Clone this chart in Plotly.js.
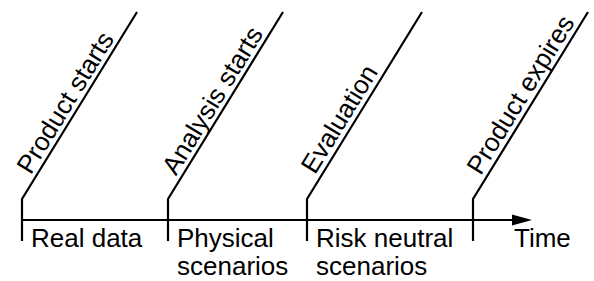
<!DOCTYPE html>
<html><head><meta charset="utf-8">
<script src="https://cdn.plot.ly/plotly-3.0.1.min.js"></script>
<style>html,body{margin:0;padding:0;background:#fff}#chart{width:594px;height:281px}</style>
</head><body><div id="chart"></div>
<script>
// ---- data ----
const events = ["Product starts", "Analysis starts", "Evaluation", "Product expires"];
const eventTimes = [22, 168, 307, 473];
const periodLine1 = ["Real data", "Physical", "Risk neutral"];
const periodLine2 = ["", "scenarios", "scenarios"];
const axisLabel = "Time";

// ---- layout / style constants ----
const W = 594, H = 281;
const AXIS_Y = 220, TICK_TOP = 199, TICK_BOTTOM = 241;
const DIAG_DX = 115, DIAG_DY = 187;
const AXIS_START = 22, ARROW_END = 532, HEAD_LEN = 20, HEAD_HALF = 5.5;
const FS = 26;
const FONT = '"Liberation Sans", Arial, sans-serif';
const TEXT_START = 24, TEXT_GAP = 5;
const LABEL_DX = 7, BASE1 = 247, LINE_STEP = 28;
const TIME_X = 512;

const ctx = document.createElement('canvas').getContext('2d');
ctx.font = FS + 'px ' + FONT;
const tw = t => ctx.measureText(t).width;

const len = Math.hypot(DIAG_DX, DIAG_DY);
const ux = DIAG_DX / len, uy = -DIAG_DY / len;   // reading direction
const nx = uy, ny = -ux;                          // text "up" direction
const angle = Math.atan2(DIAG_DY, DIAG_DX) * 180 / Math.PI;

const traces = [];
eventTimes.forEach(x0 => {
  traces.push({
    x: [x0, x0, x0 + DIAG_DX], y: [TICK_BOTTOM, TICK_TOP, TICK_TOP - DIAG_DY],
    mode: 'lines', line: {color: '#000', width: 2.2}, hoverinfo: 'skip', showlegend: false
  });
});
traces.push({
  x: [AXIS_START, ARROW_END - HEAD_LEN / 2], y: [AXIS_Y, AXIS_Y],
  mode: 'lines', line: {color: '#000', width: 2.2}, hoverinfo: 'skip', showlegend: false
});

const font = {family: FONT, size: FS, color: '#000'};
const annotations = [];
events.forEach((t, i) => {
  const s = TEXT_START + tw(t) / 2;
  const off = TEXT_GAP + 0.35 * FS;
  annotations.push({
    x: eventTimes[i] + s * ux + off * nx,
    y: TICK_TOP + s * uy + off * ny,
    xref: 'x', yref: 'y', text: t, showarrow: false, textangle: -angle,
    xanchor: 'center', yanchor: 'middle', font
  });
});
const mid = 0.35 * FS;
periodLine1.forEach((t, i) => {
  [t, periodLine2[i]].forEach((s, k) => {
    if (!s) return;
    annotations.push({
      x: eventTimes[i] + LABEL_DX, y: BASE1 + k * LINE_STEP - mid,
      xref: 'x', yref: 'y', text: s, showarrow: false,
      xanchor: 'left', yanchor: 'middle', font
    });
  });
});
annotations.push({
  x: TIME_X, y: BASE1 - mid, xref: 'x', yref: 'y', text: axisLabel, showarrow: false,
  xanchor: 'left', yanchor: 'middle', font
});

const layout = {
  width: W, height: H, margin: {l: 0, r: 0, t: 0, b: 0},
  paper_bgcolor: '#fff', plot_bgcolor: '#fff',
  xaxis: {range: [0, W], visible: false, fixedrange: true},
  yaxis: {range: [H, 0], visible: false, fixedrange: true},
  shapes: [{
    type: 'path', xref: 'x', yref: 'y',
    path: `M ${ARROW_END - HEAD_LEN},${AXIS_Y - HEAD_HALF} L ${ARROW_END},${AXIS_Y} L ${ARROW_END - HEAD_LEN},${AXIS_Y + HEAD_HALF} Z`,
    fillcolor: '#000', line: {width: 0}
  }],
  annotations, showlegend: false, hovermode: false
};
Plotly.newPlot('chart', traces, layout, {displayModeBar: false, staticPlot: true});
</script></body></html>
